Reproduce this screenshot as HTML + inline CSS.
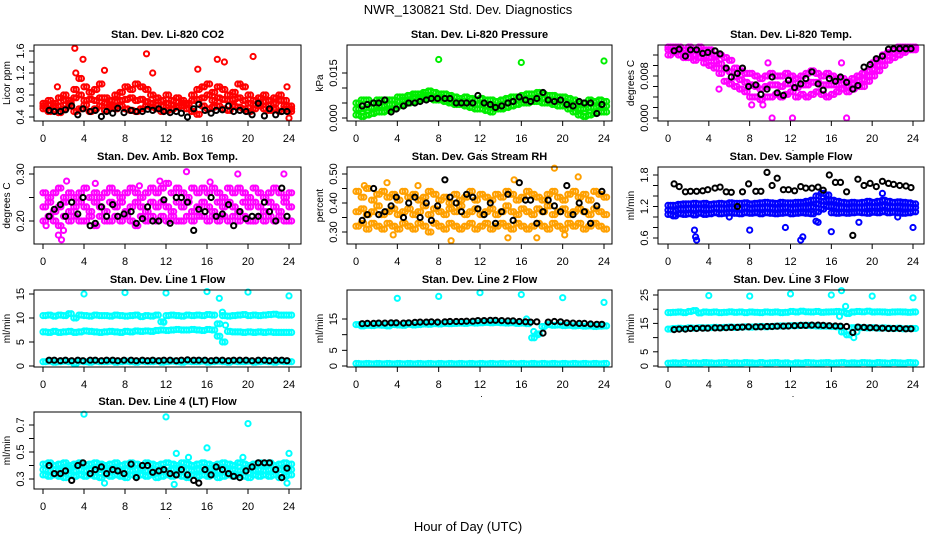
<!DOCTYPE html>
<html><head><meta charset="utf-8"><title>NWR_130821 Std. Dev. Diagnostics</title>
<style>
html,body{margin:0;padding:0;background:#fff;}
svg text{font-family:"Liberation Sans",Arial,sans-serif;fill:#000;}
</style></head>
<body>
<svg id="chart" xmlns="http://www.w3.org/2000/svg" width="936" height="540" viewBox="0 0 936 540">
<rect x="0" y="0" width="936" height="540" fill="#fff"/>
<text x="468" y="14" text-anchor="middle" font-size="13">NWR_130821  Std. Dev. Diagnostics</text>
<text x="468" y="531" text-anchor="middle" font-size="13">Hour of Day (UTC)</text>
</svg>
<script>
// ---------- shared x categories ----------
const xTicks = [0,4,8,12,16,20,24];
const blackTimes = [0.6,1.1,1.7,2.2,2.8,3.4, 3.9,4.6,5.1,5.7,6.2,6.8, 7.3,7.9,8.6,9.1,9.7,10.2, 10.7,11.3,11.8,12.4,13,13.5, 14.1,14.7,15.2,15.8,16.4,16.9, 17.5,18.1,18.6,19.2,19.8,20.4, 21,21.6,22.1,22.7,23.3,23.8];
const halfHours = [];
for (let h = 0; h <= 24; h += 0.5) halfHours.push(h);

// ---------- CO2 ----------
const co2Low = [0.55,0.5,0.52,0.48,0.55,0.6,0.5,0.55,0.62,0.5,0.55,0.6,0.52,0.58,0.55,0.6,0.55,0.52,0.5,0.55,0.6,0.58,0.55,0.5,0.52,0.55,0.58,0.6,0.55,0.5,0.45,0.6,0.55,0.58,0.6,0.55,0.52,0.6,0.58,0.55,0.5,0.55,0.6,0.55,0.52,0.55,0.5,0.55,0.5];
const co2Mid = [0.6,0.62,0.65,0.6,0.7,0.65,0.75,0.8,0.7,0.72,0.7,0.75,0.65,0.62,0.68,0.7,0.72,0.75,0.7,0.72,0.68,0.65,0.62,0.6,0.65,0.62,0.6,0.65,0.62,0.7,0.72,0.75,0.8,0.7,0.75,0.72,0.7,0.72,0.75,0.7,0.65,0.62,0.65,0.68,0.62,0.65,0.7,0.6,0.55];
const co2High = [0.65,0.7,0.6,0.75,0.8,0.7,0.9,1.1,0.95,0.85,0.9,1.0,0.75,0.7,0.8,0.85,0.95,0.9,1.0,0.95,0.9,0.8,0.75,0.7,0.8,0.7,0.75,0.7,0.65,0.8,0.9,0.95,1.0,0.85,0.95,0.9,0.8,0.85,1.0,0.95,0.8,0.7,0.75,0.8,0.7,0.75,0.8,0.7,0.6];
const co2OutT = [3.1,3.9,10.1,20.5,17,17.7,6,10.7,15.1,23.8,24,1.4,3.2];
const co2OutV = [1.65,1.45,1.55,1.5,1.45,1.4,1.25,1.2,1.27,0.95,0.38,0.95,1.2];
const co2Black = [0.52,0.5,0.5,0.53,0.6,0.44, 0.55,0.5,0.52,0.41,0.5,0.47, 0.56,0.48,0.52,0.5,0.5,0.54, 0.52,0.55,0.5,0.48,0.5,0.47, 0.4,0.55,0.63,0.52,0.47,0.52, 0.53,0.6,0.5,0.52,0.5,0.44, 0.65,0.42,0.55,0.44,0.5,0.5];

// ---------- Pressure ----------
const presHigh = [0.005,0.006,0.006,0.005,0.006,0.006,0.006,0.006,0.007,0.007,0.0075,0.008,0.008,0.0085,0.009,0.0085,0.008,0.008,0.0075,0.007,0.0065,0.007,0.0065,0.006,0.0065,0.006,0.006,0.0055,0.006,0.0065,0.007,0.007,0.0075,0.008,0.008,0.0085,0.008,0.0075,0.0075,0.007,0.007,0.0065,0.006,0.005,0.005,0.006,0.0055,0.006,0.0055];
const presMid = [0.003,0.003,0.0035,0.0035,0.004,0.004,0.0045,0.0045,0.0055,0.006,0.006,0.007,0.007,0.0075,0.0075,0.007,0.007,0.0065,0.006,0.0055,0.0055,0.0055,0.005,0.0045,0.0045,0.004,0.004,0.004,0.0045,0.005,0.0055,0.006,0.006,0.0065,0.0065,0.007,0.0065,0.006,0.006,0.0055,0.0055,0.005,0.004,0.003,0.003,0.0035,0.0035,0.004,0.004];
const presLow = [0.001,0.0005,0.001,0.0015,0.002,0.002,0.0025,0.003,0.004,0.0045,0.005,0.0055,0.006,0.0065,0.0065,0.006,0.006,0.0055,0.005,0.0045,0.0045,0.004,0.0035,0.003,0.003,0.0025,0.002,0.003,0.003,0.0035,0.004,0.0045,0.005,0.005,0.0055,0.0055,0.005,0.005,0.0045,0.004,0.004,0.003,0.002,0.001,0.0005,0.001,0.0015,0.002,0.002];
const presOutT = [8,16,24];
const presOutV = [0.0195,0.0185,0.019];
const presBlack = [0.004,0.0045,0.005,0.005,0.006,0.002, 0.003,0.004,0.005,0.005,0.0055,0.006, 0.0065,0.0065,0.0065,0.0065,0.005,0.005, 0.005,0.005,0.0075,0.005,0.0045,0.0035, 0.004,0.005,0.0055,0.007,0.006,0.0055, 0.0065,0.0085,0.006,0.0055,0.006,0.0045, 0.004,0.0055,0.005,0.005,0.0015,0.0045];

// ---------- Li-820 Temp ----------
const tempHigh = [0.0135,0.0135,0.0135,0.013,0.0135,0.013,0.0135,0.013,0.013,0.012,0.012,0.0115,0.011,0.0095,0.009,0.0085,0.0085,0.008,0.0075,0.008,0.0085,0.008,0.008,0.0085,0.008,0.0075,0.008,0.0085,0.009,0.0085,0.008,0.0085,0.008,0.0075,0.0075,0.007,0.0075,0.008,0.0085,0.009,0.0105,0.011,0.012,0.0125,0.013,0.0135,0.0135,0.0135,0.0135];
const tempMid = [0.013,0.013,0.0128,0.0123,0.0125,0.012,0.0125,0.0118,0.0115,0.0108,0.0103,0.0093,0.0088,0.0078,0.0073,0.0068,0.0063,0.006,0.0055,0.006,0.0063,0.0063,0.006,0.0065,0.0065,0.0058,0.0063,0.0063,0.0068,0.0068,0.0063,0.0063,0.0063,0.0063,0.0065,0.006,0.0065,0.007,0.0073,0.008,0.0093,0.01,0.011,0.0118,0.0123,0.0128,0.013,0.0133,0.0133];
const tempLow = [0.012,0.0125,0.012,0.0115,0.0115,0.011,0.0115,0.0105,0.01,0.0095,0.0085,0.007,0.0065,0.006,0.0055,0.005,0.004,0.004,0.0035,0.004,0.004,0.0045,0.004,0.0045,0.005,0.004,0.0045,0.004,0.0045,0.005,0.0045,0.004,0.0045,0.005,0.0055,0.005,0.0055,0.006,0.006,0.007,0.008,0.009,0.01,0.011,0.0115,0.012,0.0125,0.013,0.013];
const tempOutT = [10.2,12.2,17.5,5,9.8,17,8.2,9.3];
const tempOutV = [0,0,0,0.0055,0.0105,0.0105,0.0025,0.0025];
const tempBlack = [0.0128,0.0131,0.0118,0.013,0.013,0.0123, 0.0125,0.0128,0.0122,0.0095,0.0078,0.0085, 0.0095,0.006,0.0063,0.0045,0.0055,0.0078, 0.0048,0.0043,0.0072,0.0058,0.0065,0.0075, 0.0088,0.0065,0.0053,0.0075,0.007,0.0078, 0.0068,0.0055,0.0062,0.0097,0.0102,0.0113, 0.0118,0.0131,0.0132,0.0132,0.0132,0.0132];

// ---------- Amb. Box Temp ----------
const boxHigh = [0.26,0.25,0.26,0.27,0.25,0.26,0.25,0.26,0.27,0.25,0.26,0.25,0.26,0.27,0.26,0.25,0.26,0.27,0.26,0.25,0.26,0.27,0.26,0.27,0.28,0.26,0.27,0.26,0.25,0.27,0.26,0.27,0.26,0.27,0.26,0.25,0.27,0.26,0.27,0.26,0.25,0.27,0.26,0.25,0.26,0.27,0.26,0.25,0.26];
const boxMid = [0.23,0.24,0.22,0.23,0.24,0.22,0.23,0.24,0.23,0.22,0.24,0.23,0.22,0.24,0.23,0.24,0.22,0.23,0.24,0.23,0.22,0.24,0.23,0.24,0.23,0.22,0.24,0.23,0.24,0.22,0.23,0.24,0.23,0.22,0.24,0.23,0.24,0.23,0.22,0.24,0.23,0.24,0.23,0.22,0.24,0.23,0.22,0.24,0.23];
const boxLow = [0.2,0.21,0.2,0.19,0.21,0.2,0.21,0.2,0.2,0.21,0.19,0.21,0.2,0.2,0.21,0.2,0.21,0.2,0.19,0.21,0.2,0.21,0.2,0.21,0.2,0.21,0.2,0.2,0.21,0.2,0.21,0.21,0.2,0.21,0.2,0.21,0.2,0.21,0.2,0.21,0.2,0.2,0.21,0.2,0.21,0.2,0.21,0.2,0.2];
const boxOutT = [1.5,1.8,0.3,2.3,5.1,14,19,23.5,11.4,9.4,2,16.3];
const boxOutV = [0.17,0.16,0.19,0.285,0.28,0.305,0.3,0.3,0.285,0.275,0.18,0.283];
const boxBlack = [0.21,0.225,0.235,0.21,0.24,0.215, 0.25,0.19,0.195,0.23,0.21,0.235, 0.21,0.215,0.22,0.195,0.205,0.23, 0.2,0.2,0.245,0.195,0.25,0.25, 0.24,0.18,0.225,0.22,0.25,0.21, 0.215,0.235,0.19,0.22,0.205,0.21, 0.21,0.24,0.22,0.2,0.27,0.21];

// ---------- Gas Stream RH ----------
const rhHigh = [0.44,0.42,0.45,0.41,0.43,0.44,0.42,0.43,0.41,0.44,0.42,0.43,0.41,0.42,0.44,0.43,0.41,0.42,0.4,0.43,0.41,0.42,0.44,0.41,0.43,0.42,0.41,0.43,0.42,0.44,0.43,0.41,0.42,0.44,0.43,0.42,0.41,0.43,0.44,0.42,0.41,0.43,0.44,0.42,0.43,0.41,0.44,0.43,0.42];
const rhMid = [0.37,0.38,0.36,0.37,0.39,0.36,0.37,0.38,0.36,0.37,0.38,0.36,0.37,0.39,0.36,0.38,0.37,0.36,0.38,0.37,0.39,0.36,0.37,0.38,0.36,0.37,0.38,0.36,0.37,0.39,0.37,0.36,0.38,0.37,0.36,0.38,0.37,0.39,0.36,0.37,0.38,0.36,0.37,0.38,0.37,0.36,0.38,0.37,0.36];
const rhLow = [0.32,0.33,0.31,0.33,0.32,0.31,0.33,0.32,0.31,0.33,0.32,0.31,0.33,0.32,0.3,0.33,0.32,0.31,0.33,0.32,0.31,0.32,0.33,0.31,0.32,0.33,0.31,0.32,0.33,0.32,0.31,0.33,0.32,0.31,0.32,0.33,0.32,0.31,0.33,0.32,0.31,0.33,0.32,0.33,0.31,0.32,0.33,0.32,0.31];
const rhOutT = [19.2,21.5,15.3,9.2,3.6,17.5,14.7,20.2,0.8,3,6];
const rhOutV = [0.52,0.49,0.48,0.27,0.29,0.28,0.28,0.29,0.46,0.47,0.46];
const rhBlack = [0.34,0.36,0.45,0.36,0.37,0.39, 0.42,0.35,0.4,0.42,0.35,0.4, 0.34,0.39,0.48,0.42,0.4,0.37, 0.43,0.42,0.38,0.36,0.4,0.33, 0.37,0.43,0.34,0.47,0.41,0.41, 0.33,0.37,0.41,0.39,0.37,0.46, 0.36,0.4,0.37,0.33,0.39,0.44];

// ---------- Sample Flow ----------
const sfHigh = [1.22,1.22,1.24,1.25,1.25,1.26,1.25,1.26,1.24,1.25,1.26,1.25,1.27,1.26,1.26,1.27,1.25,1.26,1.27,1.28,1.27,1.26,1.28,1.27,1.27,1.28,1.28,1.3,1.32,1.4,1.45,1.42,1.32,1.3,1.28,1.27,1.28,1.27,1.28,1.3,1.28,1.3,1.32,1.3,1.28,1.29,1.28,1.27,1.25];
const sfMid = [1.13,1.12,1.15,1.15,1.16,1.15,1.16,1.15,1.15,1.17,1.16,1.16,1.17,1.17,1.16,1.18,1.16,1.17,1.17,1.18,1.17,1.16,1.17,1.18,1.16,1.17,1.18,1.18,1.19,1.25,1.3,1.32,1.2,1.18,1.18,1.17,1.18,1.18,1.18,1.19,1.19,1.19,1.21,1.19,1.19,1.19,1.18,1.18,1.18];
const sfLow = [1.05,1.02,1.06,1.05,1.06,1.04,1.07,1.05,1.06,1.08,1.06,1.07,1.08,1.07,1.06,1.08,1.07,1.08,1.06,1.08,1.07,1.06,1.07,1.08,1.06,1.07,1.08,1.07,1.06,1.1,1.15,1.2,1.08,1.07,1.08,1.07,1.08,1.09,1.08,1.07,1.09,1.08,1.1,1.08,1.09,1.08,1.07,1.08,1.1];
const sfOutT = [2.6,2.7,2.8,8,11.5,13,13.2,14.5,14.7,16,18.7,24,6,21,22.5];
const sfOutV = [0.75,0.62,0.56,0.75,0.8,0.56,0.62,0.92,0.9,0.72,0.9,0.8,1.0,1.45,1.0];
const sfBlack = [1.63,1.58,1.48,1.49,1.49,1.5, 1.52,1.55,1.57,1.48,1.47,1.2, 1.48,1.63,1.49,1.49,1.85,1.6, 1.74,1.52,1.52,1.5,1.58,1.55, 1.55,1.57,1.51,1.8,1.66,1.66, 1.48,0.65,1.72,1.6,1.64,1.58, 1.68,1.64,1.62,1.6,1.59,1.56];

// ---------- Line 1 Flow ----------
const l1Top = [10.5,10.6,10.4,10.6,10.5,10.9,10,10.6,10.5,10.4,10.6,10.5,10.5,10.4,10.6,10.5,10.4,10.5,10.6,10.3,10.5,10.4,10.6,9.2,10.5,10.6,10.5,10.4,10.6,10.5,10.6,10.5,10.7,10.6,8.8,10.5,10.4,10.5,10.6,10.7,10.5,10.6,10.5,10.6,10.7,10.8,10.6,10.6,10.6];
const l1Mid = [7.1,7.0,7.2,7.0,7.1,7.2,7.0,7.1,7.3,7.2,7.1,7.0,7.1,7.2,7.1,7.0,7.2,7.1,7.3,7.2,7.3,7.2,7.4,7.5,7.4,7.5,7.6,7.5,7.5,7.6,7.5,7.4,7.6,7.5,6.2,5.0,7.2,7.1,7.1,7.0,7.1,7.0,7.1,7.0,7.1,7.0,7.0,7.0,7.0];
const l1Bot = [0.9,1.0,0.8,0.9,1.0,0.9,0.5,1.0,0.9,0.8,1.0,0.9,0.9,1.0,0.8,0.9,1.0,0.9,0.8,1.0,0.9,0.9,1.0,0.8,0.9,1.0,0.9,0.8,1.0,0.9,0.9,1.0,0.8,0.9,1.0,0.9,0.8,1.0,0.9,0.9,1.0,0.8,0.9,1.0,0.9,0.8,1.0,0.9,0.9];
const l1OutT = [4,8,12,16,17.2,20,24,17.5,17.8,11.8];
const l1OutV = [15,15.3,15.2,15.5,14.1,15.4,14.6,11.2,8.5,9.1];
const l1Black = [1.2,1.2,1.1,1.2,1.1,1.2, 1.1,1.2,1.2,1.1,1.2,1.2, 1.1,1.2,1.2,1.1,1.2,1.1, 1.2,1.1,1.2,1.2,1.1,1.2, 1.3,1.2,1.2,1.2,1.1,1.2, 1.2,1.1,1.2,1.2,1.2,1.1, 1.2,1.2,1.1,1.2,1.2,1.1];

// ---------- Line 2 Flow ----------
const l2Top = [13.2,12.8,13,12.9,13.1,13,12.8,13.2,13.1,13,13.3,13.1,13.2,13.4,13.3,13.5,13.4,13.6,13.5,13.6,13.7,13.6,13.8,13.7,13.8,13.9,13.8,13.9,13.8,13.7,13.8,13.6,13.7,13.5,9,10.2,12.6,13.2,13,13.1,12.9,13,12.8,12.9,12.7,12.8,12.6,12.7,12.8];
const l2Bot = [0.8,0.7,0.8,0.7,0.8,0.7,0.8,0.7,0.8,0.7,0.8,0.7,0.8,0.7,0.8,0.7,0.8,0.7,0.8,0.7,0.8,0.7,0.8,0.7,0.8,0.7,0.8,0.7,0.8,0.7,0.8,0.7,0.8,0.7,0.8,0.7,0.8,0.7,0.8,0.7,0.8,0.7,0.8,0.7,0.8,0.7,0.8,0.7,0.8];
const l2OutT = [4,8,12,16,20,24,17.2,17.6,16.5];
const l2OutV = [21.6,22.2,23.4,22.8,21.8,20.3,11,10,15];
const l2Black = [13.5,13.6,13.6,13.7,13.7,13.8, 13.8,13.7,13.8,13.9,14,14, 14.1,14,14.1,14.2,14.2,14.2, 14.3,14.3,14.5,14.5,14.6,14.6, 14.5,14.4,14.4,14.2,14.1,14, 14.1,10.5,14,14.2,14.1,13.8, 13.7,13.6,13.6,13.4,13.3,13.3];

// ---------- Line 3 Flow ----------
const l3Top = [18.8,18.9,19,18.8,19.2,19.5,18.7,19,18.9,19,18.8,18.9,19.1,18.9,19,18.8,19,18.9,18.8,19,18.9,19,18.8,18.9,19.2,19,19.3,19.1,19,19.2,18.9,19,19.1,19.2,19,18.5,19,19.2,19.1,19.3,19,19.1,19,18.9,19,19.1,19,18.9,19];
const l3Mid = [13,13.2,13.3,13.2,13.4,13.3,13.5,13.4,13.5,13.6,13.5,13.6,13.7,13.6,13.7,13.8,13.7,13.8,13.9,13.8,13.9,14,14.1,14.1,14.2,14.2,14.3,14.3,14.2,14.1,14,14,13.9,13.8,12,11,13.5,13.6,13.5,13.4,13.5,13.3,13.4,13.3,13.2,13.3,13.1,13.2,13.2];
const l3Bot = [1,1.1,1,1.2,1,1.1,1,1.2,1.1,1,1.1,1.2,1,1.1,1,1.2,1.1,1,1.2,1,1.1,1.2,1,1.1,0.8,1.1,1,1.2,1.1,1,1.1,1.2,1,1.1,1.2,1,1.1,1,1.2,1.1,1,1.2,1.1,1,1.2,1.1,1,1.2,1.1];
const l3OutT = [4,8,12,16,20,24,17,17.4,18.2,18.5,16.8];
const l3OutV = [24.8,24.6,25.4,25,24.6,24,26.5,21,10,12,17.5];
const l3Black = [12.8,13,13,13.2,13.2,13.3, 13.3,13.4,13.4,13.5,13.6,13.6, 13.7,13.8,13.8,13.8,13.9,13.9, 14,14,14.1,14.2,14.3,14.3, 14.4,14.4,14.3,14.2,14.1,14, 13.9,11.8,13.7,13.6,13.5,13.4, 13.3,13.2,13.2,13.2,13.1,13.1];

// ---------- Line 4 Flow ----------
const l4High = [0.41,0.42,0.4,0.41,0.42,0.4,0.41,0.42,0.4,0.41,0.42,0.41,0.4,0.41,0.42,0.4,0.41,0.42,0.41,0.4,0.42,0.41,0.4,0.41,0.42,0.41,0.4,0.42,0.41,0.4,0.41,0.42,0.41,0.4,0.41,0.42,0.41,0.4,0.42,0.41,0.4,0.41,0.42,0.41,0.42,0.4,0.41,0.42,0.41];
const l4Mid = [0.37,0.36,0.37,0.36,0.37,0.38,0.36,0.37,0.36,0.37,0.36,0.37,0.38,0.36,0.37,0.36,0.37,0.36,0.37,0.38,0.36,0.37,0.36,0.37,0.36,0.37,0.38,0.36,0.37,0.36,0.37,0.36,0.37,0.38,0.36,0.37,0.36,0.37,0.36,0.37,0.38,0.36,0.37,0.36,0.37,0.36,0.37,0.36,0.37];
const l4Low = [0.33,0.32,0.33,0.32,0.31,0.33,0.32,0.33,0.32,0.33,0.32,0.31,0.33,0.32,0.33,0.32,0.31,0.33,0.32,0.33,0.32,0.33,0.31,0.32,0.33,0.32,0.33,0.32,0.31,0.33,0.32,0.33,0.32,0.33,0.31,0.32,0.33,0.32,0.33,0.32,0.31,0.33,0.32,0.33,0.32,0.33,0.31,0.32,0.33];
const l4OutT = [4,12,20,13,16,24,14.2,23.8,6,12.8,19.5];
const l4OutV = [0.78,0.76,0.71,0.49,0.53,0.49,0.46,0.27,0.27,0.26,0.46];
const l4Black = [0.4,0.34,0.34,0.36,0.29,0.4, 0.42,0.34,0.37,0.39,0.34,0.37, 0.36,0.34,0.41,0.31,0.4,0.4, 0.35,0.36,0.37,0.34,0.33,0.37, 0.33,0.29,0.27,0.37,0.33,0.39, 0.37,0.34,0.32,0.31,0.36,0.39, 0.42,0.42,0.42,0.37,0.31,0.38];

// ---------- layout ----------
const colL = [34,347,658], colR = [301,612,924];
const colX0 = [43,356,668], colX24 = [289,604,913];
const rowT = [45,167,290,412], rowB = [121,244,367,489];

const RED='#ff0000', GRN='#00ee00', MAG='#ff00ff', ORG='#ffa000', BLU='#0000ff', CYN='#00ffff', BLK='#000000';

const panels = [
 {name:'co2', title:'Stan. Dev. Li-820 CO2', ylab:'Licor ppm', col:0,row:0, v1:0.4,p1:117,v2:1.6,p2:51,
  ticks:[0.4,0.6,0.8,1.0,1.2,1.4,1.6], labels:[[0.4,'0.4'],[0.8,'0.8'],[1.2,'1.2'],[1.6,'1.6']],
  clouds:[[co2Low,RED],[co2Mid,RED],[co2High,RED]], out:[co2OutT,co2OutV,RED], black:co2Black},
 {name:'pressure', title:'Stan. Dev. Li-820 Pressure', ylab:'kPa', col:1,row:0, v1:0,p1:118,v2:0.015,p2:73,
  ticks:[0,0.005,0.01,0.015], labels:[[0,'0.000'],[0.015,'0.015']],
  clouds:[[presLow,GRN],[presMid,GRN],[presHigh,GRN]], out:[presOutT,presOutV,GRN], black:presBlack},
 {name:'li820-temp', title:'Stan. Dev. Li-820 Temp.', ylab:'degrees C', col:2,row:0, v1:0,p1:118,v2:0.008,p2:76,
  ticks:[0,0.002,0.004,0.006,0.008,0.010,0.012], labels:[[0,'0.000'],[0.008,'0.008']],
  clouds:[[tempLow,MAG],[tempMid,MAG],[tempHigh,MAG]], out:[tempOutT,tempOutV,MAG], black:tempBlack},
 {name:'box-temp', title:'Stan. Dev. Amb. Box Temp.', ylab:'degrees C', col:0,row:1, v1:0.2,p1:221,v2:0.3,p2:174,
  ticks:[0.2,0.25,0.3], labels:[[0.2,'0.20'],[0.3,'0.30']],
  clouds:[[boxLow,MAG],[boxMid,MAG],[boxHigh,MAG]], out:[boxOutT,boxOutV,MAG], black:boxBlack},
 {name:'gas-rh', title:'Stan. Dev. Gas Stream RH', ylab:'percent', col:1,row:1, v1:0.3,p1:232,v2:0.5,p2:174,
  ticks:[0.3,0.35,0.4,0.45,0.5], labels:[[0.3,'0.30'],[0.4,'0.40'],[0.5,'0.50']],
  clouds:[[rhLow,ORG],[rhMid,ORG],[rhHigh,ORG]], out:[rhOutT,rhOutV,ORG], black:rhBlack},
 {name:'sample-flow', title:'Stan. Dev. Sample Flow', ylab:'ml/min', col:2,row:1, v1:0.6,p1:238,v2:1.8,p2:175,
  ticks:[0.6,0.8,1.0,1.2,1.4,1.6,1.8], labels:[[0.6,'0.6'],[1.2,'1.2'],[1.8,'1.8']],
  clouds:[[sfLow,BLU],[sfMid,BLU],[sfHigh,BLU]], out:[sfOutT,sfOutV,BLU], black:sfBlack},
 {name:'line1-flow', title:'Stan. Dev. Line 1 Flow', ylab:'ml/min', col:0,row:2, v1:0,p1:366,v2:15,p2:294,
  ticks:[0,5,10,15], labels:[[0,'0'],[5,'5'],[10,'10'],[15,'15']],
  clouds:[[l1Bot,CYN],[l1Mid,CYN],[l1Top,CYN]], out:[l1OutT,l1OutV,CYN], black:l1Black},
 {name:'line2-flow', title:'Stan. Dev. Line 2 Flow', ylab:'ml/min', col:1,row:2, v1:0,p1:366,v2:15,p2:319,
  ticks:[0,5,10,15], labels:[[0,'0'],[5,'5'],[15,'15']],
  clouds:[[l2Bot,CYN],[l2Top,CYN]], out:[l2OutT,l2OutV,CYN], black:l2Black},
 {name:'line3-flow', title:'Stan. Dev. Line 3 Flow', ylab:'ml/min', col:2,row:2, v1:0,p1:366,v2:25,p2:295,
  ticks:[0,5,10,15,20,25], labels:[[0,'0'],[5,'5'],[15,'15'],[25,'25']],
  clouds:[[l3Bot,CYN],[l3Mid,CYN],[l3Top,CYN]], out:[l3OutT,l3OutV,CYN], black:l3Black},
 {name:'line4-flow', title:'Stan. Dev. Line 4 (LT) Flow', ylab:'ml/min', col:0,row:3, v1:0.3,p1:479,v2:0.7,p2:425,
  ticks:[0.3,0.4,0.5,0.6,0.7], labels:[[0.3,'0.3'],[0.5,'0.5'],[0.7,'0.7']],
  clouds:[[l4Low,CYN],[l4Mid,CYN],[l4High,CYN]], out:[l4OutT,l4OutV,CYN], black:l4Black}
];

const NS='http://www.w3.org/2000/svg';
const svg=document.getElementById('chart');
function mk(tag, attrs, parent){const e=document.createElementNS(NS,tag);for(const k in attrs)e.setAttribute(k,attrs[k]);parent.appendChild(e);return e;}

panels.forEach(p=>{
  const L=colL[p.col], R=colR[p.col], T=rowT[p.row], B=rowB[p.row];
  const x0=colX0[p.col], x24=colX24[p.col];
  const xs = h => x0 + (x24-x0)*h/24;
  const ys = v => p.p1 + (p.p2-p.p1)*(v-p.v1)/(p.v2-p.v1);
  const g=mk('g',{},svg);
  
  
  const title=mk('text',{x:(L+R)/2,y:T-7,'text-anchor':'middle','font-size':'11','font-weight':'bold'},g);
  title.textContent=p.title;
  
  
  // clip
  const marks=mk('g',{},g);
  
  
  function pt(h,v,color,sw,r){
    const c=mk('circle',{cx:xs(h).toFixed(1),cy:ys(v).toFixed(1),r:r,fill:'none',stroke:color,'stroke-width':sw},marks);
    
    
  }
  p.clouds.forEach(([arr,color])=>{
    arr.forEach((v,i)=>{ pt(halfHours[i],v,color,2,2.6); pt(halfHours[i]+0.25,v+(i%2?0.5:-0.5)*0,color,2,2.6); });
  });
  const [ot,ov,oc]=p.out;
  ot.forEach((h,i)=>pt(h,ov[i],oc,2,2.6));
  p.black.forEach((v,i)=>pt(blackTimes[i],v,BLK,2,2.6));
  // box
  const box=mk('rect',{x:L,y:T,width:R-L,height:B-T,fill:'none',stroke:'#000','stroke-width':1},g);
  
  
  // x axis
  const xa=mk('g',{},g);
  
  
  mk('line',{x1:xs(0),y1:B,x2:xs(24),y2:B,stroke:'#000'},xa);
  xTicks.forEach(h=>{
    mk('line',{x1:xs(h),y1:B,x2:xs(h),y2:B+5,stroke:'#000'},xa);
    const t=mk('text',{x:xs(h),y:B+21,'text-anchor':'middle','font-size':'11'},xa);
    t.textContent=String(h);
  });
  const dot=mk('text',{x:(L+R)/2+2,y:B+30,'text-anchor':'middle','font-size':'9'},xa);
  dot.textContent='.';
  // y axis
  const ya=mk('g',{},g);
  
  
  const tk=p.ticks;
  mk('line',{x1:L,y1:ys(tk[0]),x2:L,y2:ys(tk[tk.length-1]),stroke:'#000'},ya);
  tk.forEach(v=>mk('line',{x1:L-5,y1:ys(v),x2:L,y2:ys(v),stroke:'#000'},ya));
  p.labels.forEach(([v,s])=>{
    const yy=ys(v), xx=L-10;
    const t=mk('text',{x:xx,y:yy,'text-anchor':'middle','font-size':'11',transform:`rotate(-90 ${xx} ${yy})`},ya);
    t.textContent=s;
  });
  const yl=mk('text',{x:L-24,y:(T+B)/2,'text-anchor':'middle','font-size':'10',transform:`rotate(-90 ${L-24} ${(T+B)/2})`},ya);
  yl.textContent=p.ylab;
  
  
});
</script>
</body></html>
